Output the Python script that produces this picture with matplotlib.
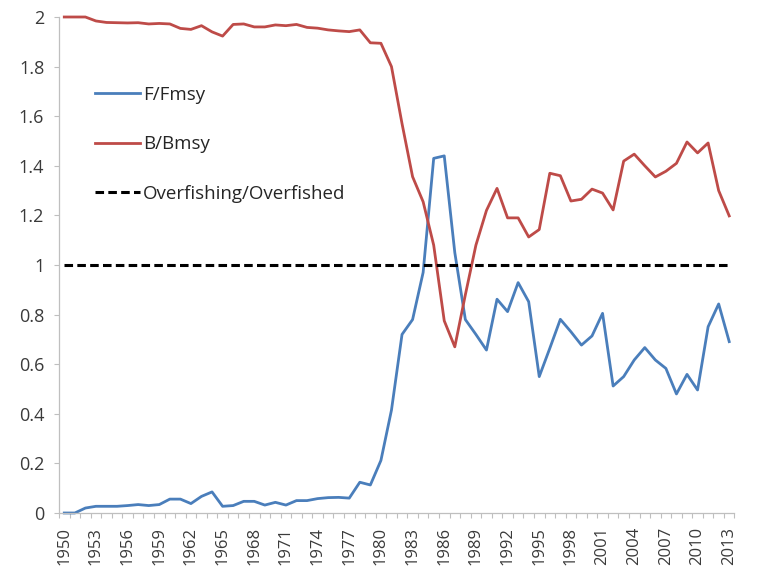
#!/usr/bin/env python3
"""
F/Fmsy and B/Bmsy time series, 1950-2013, with the overfishing /
overfished reference line at 1.  Excel-style line chart look.
"""
import matplotlib
matplotlib.use("Agg")
import matplotlib.pyplot as plt
from matplotlib.ticker import FixedLocator, NullFormatter

plt.rcParams["font.family"] = ["Open Sans", "DejaVu Sans"]

# --- data ------------------------------------------------------------------
YEARS = list(range(1950, 2014))

F_FMSY = [
    0.0, 0.0, 0.02, 0.027, 0.027, 0.027, 0.03, 0.034, 0.03, 0.034,          # 1950s
    0.056, 0.056, 0.038, 0.067, 0.085, 0.027, 0.03, 0.047, 0.047, 0.032,    # 1960s
    0.043, 0.032, 0.05, 0.05, 0.058, 0.062, 0.063, 0.06, 0.124, 0.113,      # 1970s
    0.212, 0.415, 0.72, 0.78, 0.97, 1.43, 1.44, 1.05, 0.78, 0.72,           # 1980s
    0.657, 0.862, 0.812, 0.929, 0.852, 0.55, 0.664, 0.781, 0.731, 0.677,   # 1990s
    0.714, 0.805, 0.512, 0.55, 0.617, 0.667, 0.617, 0.583, 0.48, 0.559,    # 2000s
    0.496, 0.751, 0.843, 0.691,                                             # 2010s
]

B_BMSY = [
    2.0, 2.0, 2.0, 1.984, 1.978, 1.977, 1.976, 1.977, 1.972, 1.974,
    1.972, 1.954, 1.95, 1.965, 1.94, 1.923, 1.97, 1.972, 1.96, 1.96,
    1.968, 1.965, 1.97, 1.958, 1.955, 1.948, 1.944, 1.941, 1.948, 1.896,
    1.894, 1.80, 1.57, 1.356, 1.255, 1.08, 0.775, 0.67, 0.88, 1.08,
    1.22, 1.309, 1.19, 1.19, 1.113, 1.143, 1.37, 1.36, 1.258, 1.265,
    1.306, 1.29, 1.222, 1.419, 1.447, 1.40, 1.355, 1.378, 1.41, 1.496,
    1.452, 1.492, 1.30, 1.198,
]

THRESHOLD = 1.0
SERIES_NAMES = ["F/Fmsy", "B/Bmsy", "Overfishing/Overfished"]
Y_TICKS = [0, 0.2, 0.4, 0.6, 0.8, 1, 1.2, 1.4, 1.6, 1.8, 2]
Y_LABELS = ["0", "0.2", "0.4", "0.6", "0.8", "1", "1.2", "1.4", "1.6", "1.8", "2"]

BLUE = "#4a7ebb"
RED = "#be4b48"
GREY = "#bfbfbf"
TXT = "#3a3a3a"


def main():
    W, H = 765, 572
    fig = plt.figure(figsize=(W / 100, H / 100), dpi=100)
    # plot area in pixels: left 59, right 734.5, y=2 at 17, y=0 at 513
    ax = fig.add_axes([59 / W, (H - 513) / H, (734.5 - 59) / W, (513 - 17) / H])

    idx = list(range(len(YEARS)))
    ax.plot(idx, F_FMSY, color=BLUE, lw=2.0, label=SERIES_NAMES[0],
            solid_joinstyle="round", clip_on=False)
    ax.plot(idx, B_BMSY, color=RED, lw=2.0, label=SERIES_NAMES[1],
            solid_joinstyle="round", clip_on=False)
    ax.plot(idx, [THRESHOLD] * len(idx), color="black", lw=2.2,
            dashes=(2.8, 1.4), label=SERIES_NAMES[2])

    # category axis, Excel "between tick marks" style
    ax.set_xlim(-0.5, len(YEARS) - 0.5)
    ax.set_ylim(0, 2)
    major = idx[::3]
    ax.xaxis.set_major_locator(FixedLocator(major))
    ax.set_xticklabels([str(YEARS[i]) for i in major], rotation=90)
    ax.xaxis.set_minor_locator(FixedLocator([i + 0.5 for i in range(-1, len(YEARS))]))
    ax.xaxis.set_minor_formatter(NullFormatter())
    ax.tick_params(axis="x", which="major", length=0, pad=10,
                   labelsize=12, labelcolor=TXT)
    ax.tick_params(axis="x", which="minor", length=3.6, width=0.8, color=GREY)

    ax.set_yticks(Y_TICKS)
    ax.set_yticklabels(Y_LABELS)
    ax.tick_params(axis="y", length=3.6, width=0.8, color=GREY, pad=7,
                   labelsize=13, labelcolor=TXT)

    for side in ("top", "right"):
        ax.spines[side].set_visible(False)
    for side in ("left", "bottom"):
        ax.spines[side].set_color(GREY)
        ax.spines[side].set_linewidth(0.9)

    ax.legend(loc="upper left", bbox_to_anchor=(95 / W, 1 - 86 / H),
              bbox_transform=fig.transFigure, frameon=False, fontsize=13.5,
              handlelength=2.4, handletextpad=0.15, labelspacing=1.67,
              borderpad=0, borderaxespad=0, labelcolor="#262626")

    fig.savefig("out.png", dpi=100)


if __name__ == "__main__":
    main()
